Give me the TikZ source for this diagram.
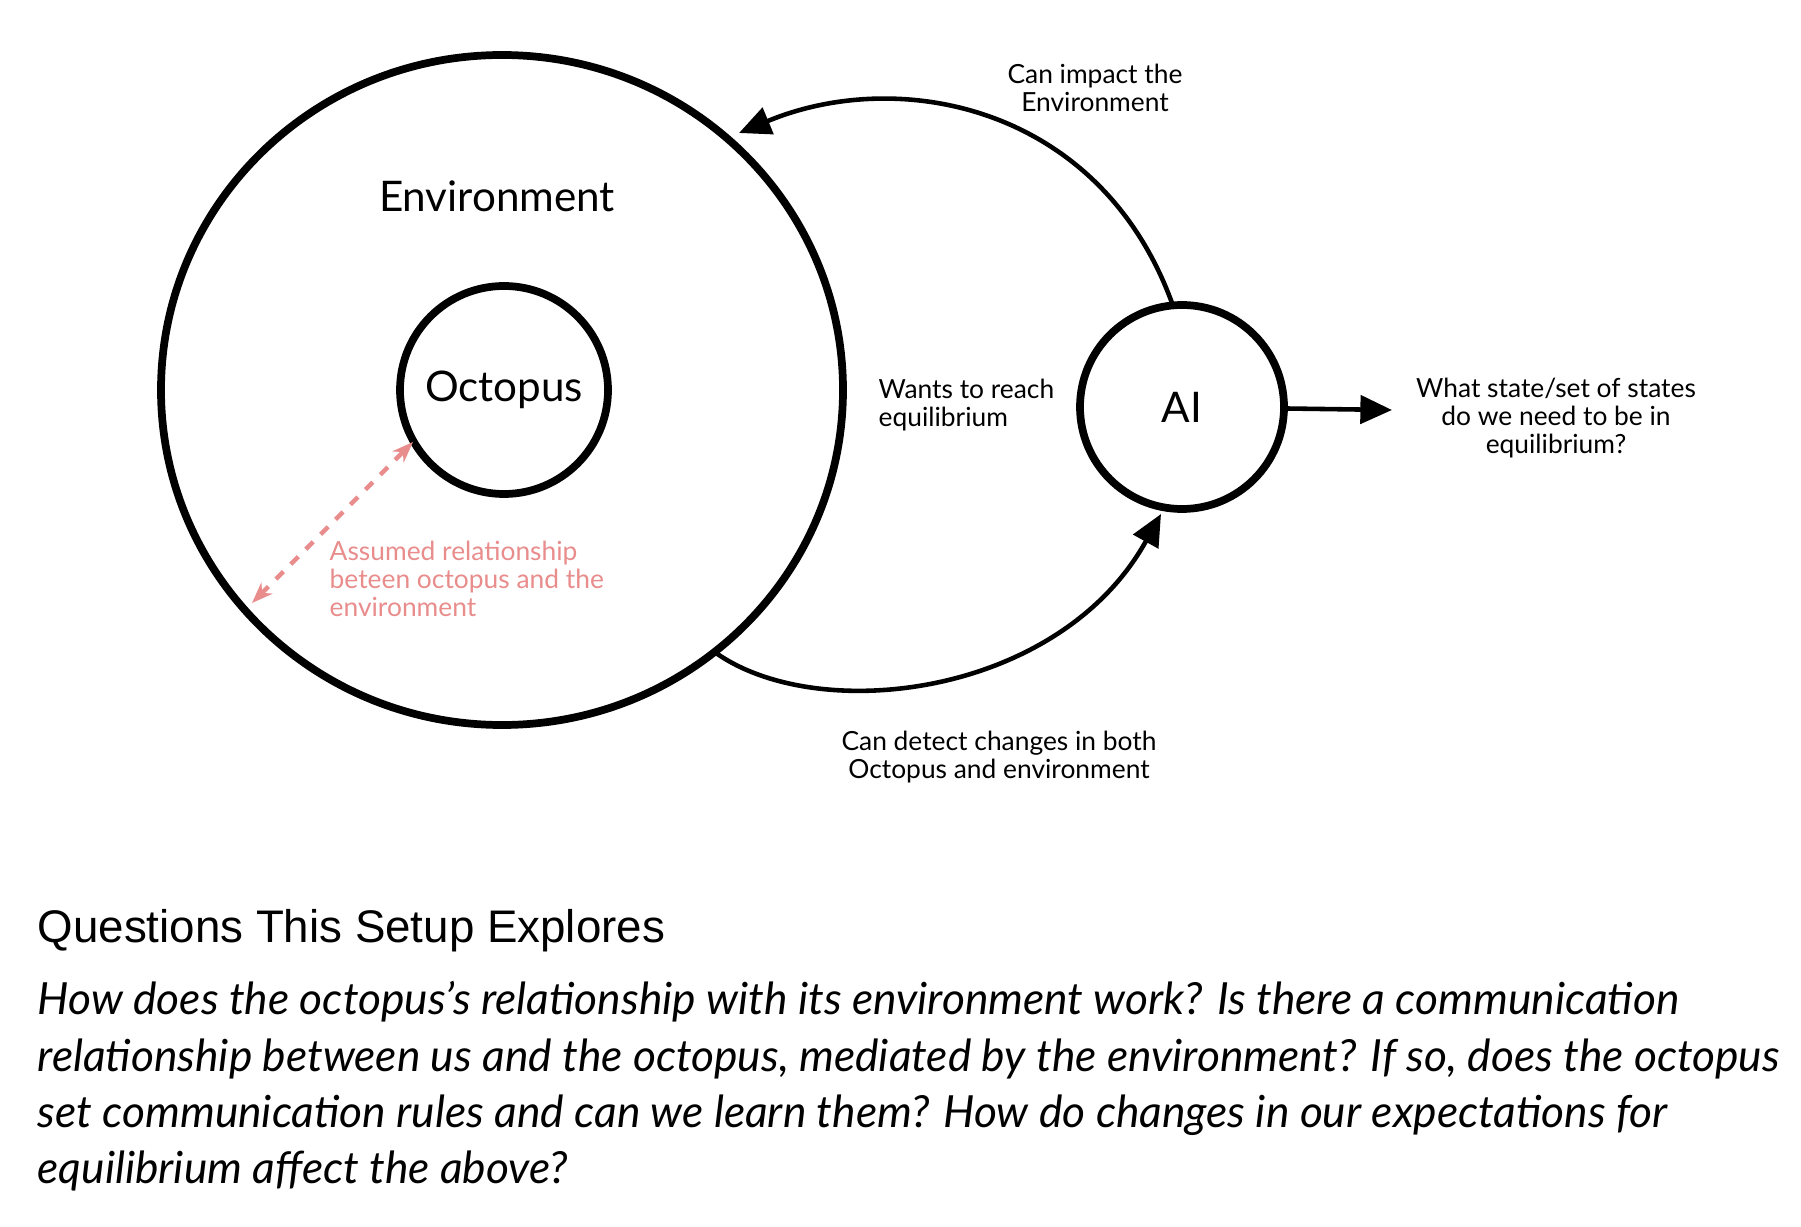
\documentclass[tikz,border=0pt]{standalone}
\usepackage{fontspec}
\setmainfont{Lato}
\newfontfamily\headfont{Liberation Sans}
\usetikzlibrary{arrows.meta,shapes.geometric}
\definecolor{pinkline}{RGB}{232,140,140}
\begin{document}
\begin{tikzpicture}[
    ring/.style={draw, line width=2.2pt},
    arrow/.style={-{Triangle[length=9pt,width=8pt]}, line width=1.3pt},
    small/.style={font=\fontsize{7.5}{8}\selectfont, align=center, inner sep=0pt}
]
    \useasboundingbox (0,0) rectangle (18.01,12.26);
    % Environment and octopus
    \node[ring, ellipse, minimum width=6.82cm, minimum height=6.7cm] (env) at (5.02,8.36) {};
    \node[font=\fontsize{12}{14}\selectfont] (envlabel) at (4.97,10.30) {Environment};
    \node[ring, circle, minimum size=2.08cm, font=\fontsize{12}{14}\selectfont] (octo) at (5.04,8.36) {Octopus};

    % AI
    \node[ring, circle, minimum size=2.04cm, font=\fontsize{12}{14}\selectfont] (ai) at (11.82,8.19) {AI};
    \coordinate (out) at (13.92,8.16);
    \draw[arrow] (ai) -- (out);
    \node[small] (question) at (15.56,8.08) {What state/set of states\\do we need to be in\\equilibrium?};

    % Arcs between AI and environment
    \coordinate (topstart) at (11.72,9.23);
    \coordinate (topend) at (7.39,10.93);
    \draw[arrow] (topstart) .. controls (11.0,11.2) and (9.0,11.6) .. (topend);
    \node[small] (impact) at (10.95,11.38) {Can impact the\\Environment};
    \coordinate (botstart) at (7.16,5.73);
    \coordinate (botend) at (11.61,7.12);
    \draw[arrow] (botstart) .. controls (8.2,5.0) and (10.6,5.3) .. (botend);
    \node[small] (detect) at (9.99,4.69) {Can detect changes in both\\Octopus and environment};
    \node[small, anchor=west, align=left] (reach) at (8.78,8.21) {Wants to reach\\equilibrium};

    % Assumed relationship
    \coordinate (relin) at (4.13,7.84);
    \coordinate (relout) at (2.52,6.23);
    \draw[pinkline, line width=1.3pt, dashed, {Stealth[length=6pt]}-{Stealth[length=6pt]}] (relout) -- (relin);
    \node[small, anchor=west, align=left, text=pinkline] (assumed) at (3.29,6.47) {Assumed relationship\\beteen octopus and the\\environment};

    % Text below
    \node[anchor=west, inner sep=0pt, font=\headfont\fontsize{13}{15}\selectfont] (heading) at (0.37,2.95) {Questions This Setup Explores};
    \node[anchor=north west, inner sep=0pt, align=left, font=\itshape\fontsize{12.6}{16}\selectfont] (body) at (0.37,2.45)
        {How does the octopus’s relationship with its environment work? Is there a communication\\
         relationship between us and the octopus, mediated by the environment? If so, does the octopus\\
         set communication rules and can we learn them? How do changes in our expectations for\\
         equilibrium affect the above?};
\end{tikzpicture}
\end{document}
